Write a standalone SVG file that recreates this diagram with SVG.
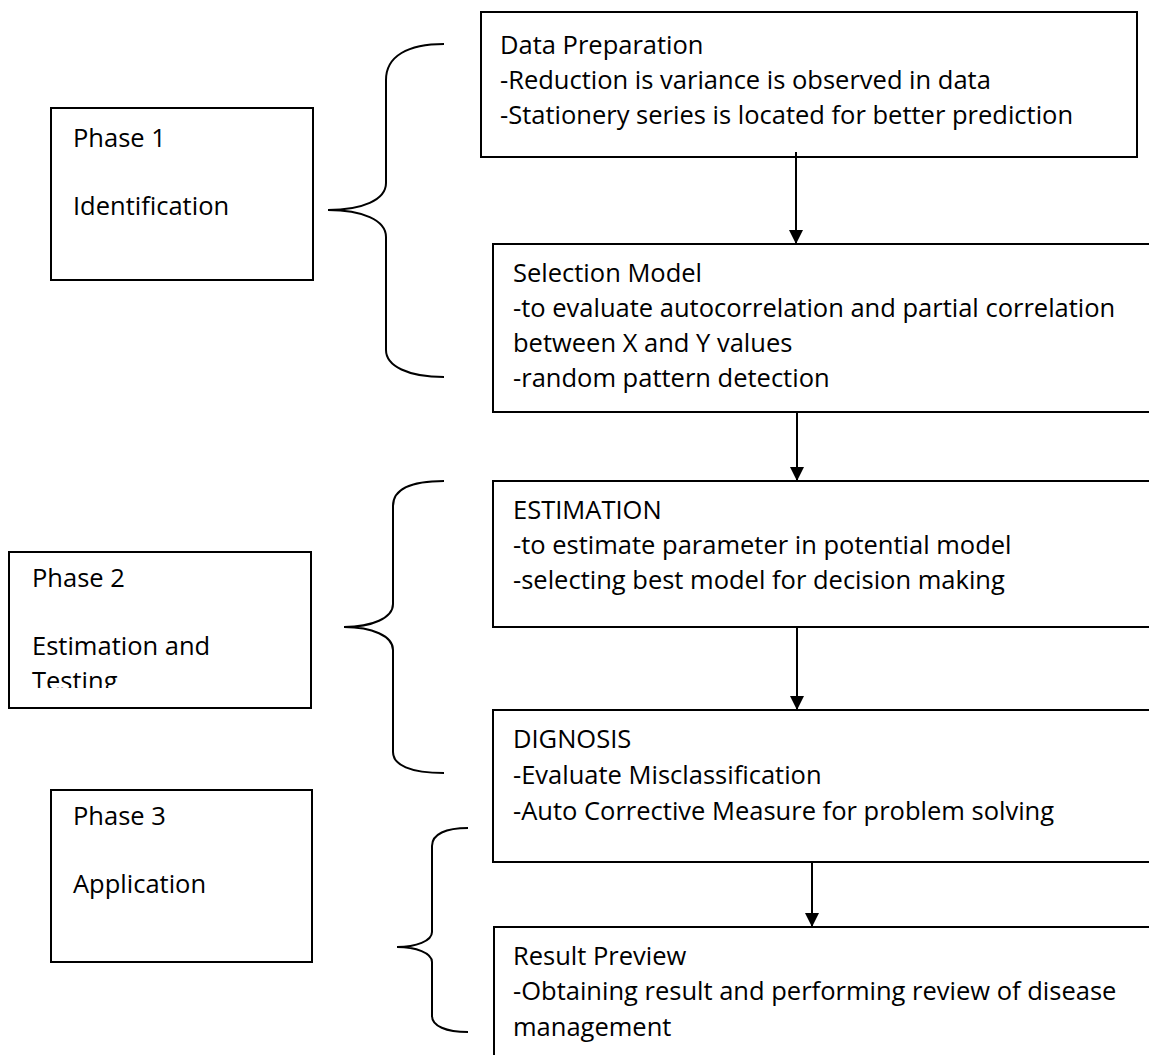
<svg xmlns="http://www.w3.org/2000/svg" width="1149" height="1055" viewBox="0 0 1149 1055">
<style>
.box{fill:#fff;stroke:#000;stroke-width:2}
.t{font-family:"Open Sans","Liberation Sans",sans-serif;font-size:25.5px;fill:#000}
.br{fill:none;stroke:#000;stroke-width:2}
.ln{stroke:#000;stroke-width:2;fill:none}
</style>
<defs>
<marker id="ah" markerWidth="14" markerHeight="14" refX="14" refY="7" orient="auto" markerUnits="userSpaceOnUse" viewBox="0 0 14 14">
<path d="M0,0 L14,7 L0,14 Z" fill="#000"/>
</marker>
<clipPath id="clipP2"><rect x="9" y="552" width="302" height="136"/></clipPath>
</defs>
<rect width="1149" height="1055" fill="#fff"/>

<g id="phase1">
<rect class="box" x="51" y="108" width="262" height="172"/>
<text class="t" x="73" y="147">Phase 1</text>
<text class="t" x="73" y="215">Identification</text>
</g>
<g id="phase2">
<rect class="box" x="9" y="552" width="302" height="156"/>
<g clip-path="url(#clipP2)">
<text class="t" x="32" y="587">Phase 2</text>
<text class="t" x="32" y="655">Estimation and</text>
<text class="t" x="32" y="690">Testing</text>
</g>
</g>
<g id="phase3">
<rect class="box" x="51" y="790" width="261" height="172"/>
<text class="t" x="73" y="825">Phase 3</text>
<text class="t" x="73" y="893">Application</text>
</g>

<g id="brace1"><path class="br" d="M444,44 C408,44 386,56 386,80 L386,183 C386,200 362,210 328,210 C362,210 386,220 386,237 L386,350 C386,366 408,377 444,377"/></g>
<g id="brace2"><path class="br" d="M444,481 C410,481 393,490 393,506 L393,604 C393,618 372,627 344,627 C372,627 393,636 393,650 L393,752 C393,765 410,773 444,773"/></g>
<g id="brace3"><path class="br" d="M468,828 C446,828 432,834 432,846 L432,932 C432,941 416,947 397,947 C416,947 432,953 432,962 L432,1016 C432,1026 446,1032 468,1032"/></g>

<g id="dataprep">
<rect class="box" x="481" y="12" width="656" height="145"/>
<text class="t" x="500" y="54">Data Preparation</text>
<text class="t" x="500" y="89">-Reduction is variance is observed in data</text>
<text class="t" x="500" y="124">-Stationery series is located for better prediction</text>
</g>
<g id="selection">
<rect class="box" x="493" y="244" width="660" height="168"/>
<text class="t" x="513" y="282">Selection Model</text>
<text class="t" x="513" y="317">-to evaluate autocorrelation and partial correlation</text>
<text class="t" x="513" y="352">between X and Y values</text>
<text class="t" x="513" y="387">-random pattern detection</text>
</g>
<g id="estimation">
<rect class="box" x="493" y="481" width="660" height="146"/>
<text class="t" x="513" y="519">ESTIMATION</text>
<text class="t" x="513" y="554">-to estimate parameter in potential model</text>
<text class="t" x="513" y="589">-selecting best model for decision making</text>
</g>
<g id="diagnosis">
<rect class="box" x="493" y="710" width="660" height="152"/>
<text class="t" x="513" y="748">DIGNOSIS</text>
<text class="t" x="513" y="784">-Evaluate Misclassification</text>
<text class="t" x="513" y="820">-Auto Corrective Measure for problem solving</text>
</g>
<g id="result">
<rect class="box" x="494" y="927" width="660" height="140"/>
<text class="t" x="513" y="965">Result Preview</text>
<text class="t" x="513" y="1000">-Obtaining result and performing review of disease</text>
<text class="t" x="513" y="1036">management</text>
</g>

<g id="connectors">
<line class="ln" x1="796" y1="152" x2="796" y2="244" marker-end="url(#ah)"/>
<line class="ln" x1="797" y1="412" x2="797" y2="481" marker-end="url(#ah)"/>
<line class="ln" x1="797" y1="627" x2="797" y2="710" marker-end="url(#ah)"/>
<line class="ln" x1="812" y1="862" x2="812" y2="927" marker-end="url(#ah)"/>
</g>
</svg>
